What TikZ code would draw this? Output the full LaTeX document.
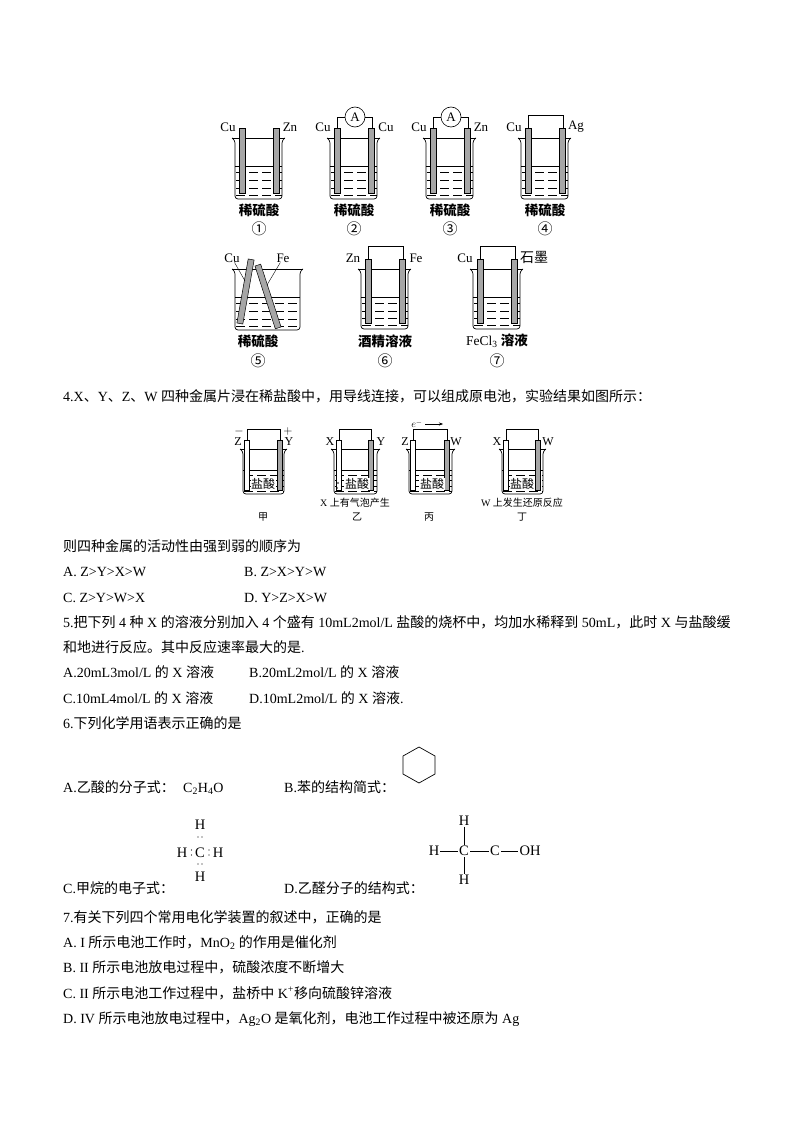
\documentclass[tikz,border=0pt]{standalone}
\usepackage{fontspec}
\setmainfont{Liberation Serif}
\newfontfamily\cjk{Noto Sans CJK SC}
\newcommand{\zh}[1]{{\cjk #1}}
\newcommand{\zhb}[1]{{\cjk\bfseries #1}}
\usetikzlibrary{arrows.meta}
\tikzset{
  txtline/.style={anchor=base west,inner sep=0pt,font=\fontsize{14}{14}\selectfont},
  captext/.style={inner sep=0pt,font=\fontsize{13.5}{14}\selectfont},
  numtext/.style={inner sep=0pt,font=\fontsize{15}{15}\selectfont},
  lab/.style={inner sep=0pt,font=\fontsize{13}{13}\selectfont},
  tiny text/.style={inner sep=0pt,font=\fontsize{10}{10}\selectfont},
  sym text/.style={inner sep=0pt,font=\fontsize{12}{12}\selectfont},
  atom/.style={inner sep=1pt,font=\fontsize{14.5}{15}\selectfont},
  metal/.style={draw,line width=0.5pt,fill=black!35,inner sep=0pt},
  meter/.style={draw,circle,line width=0.6pt,minimum size=20pt,inner sep=0pt,font=\fontsize{13}{13}\selectfont},
  wire/.style={line width=0.6pt},
  bubble/.style={draw,circle,line width=0.3pt,minimum size=2pt,inner sep=0pt},
  edot/.style={circle,fill,minimum size=1.4pt,inner sep=0pt},
}
% beaker: left, right, rim, liquid, bottom
\newcommand{\beaker}[5]{
\draw[wire] (#1-3,#3) -- (#2+3,#3);
\draw[line width=0.7pt,rounded corners=3pt] (#1-3,#3) -- (#1,#3+2) -- (#1,#5) -- (#2,#5) -- (#2,#3+2) -- (#2+3,#3);
\draw[wire] (#1,#4) -- (#2,#4);
\foreach \row in {0.2,0.43,0.66,0.88}
  \draw[line width=0.4pt,dash pattern=on 9pt off 4pt] (#1+1,{#4+\row*(#5-#4)}) -- (#2,{#4+\row*(#5-#4)});
}
% electrode: centre x, half width, top, bottom, fill
\newcommand{\electrode}[5]{
\draw[wire,fill=#5] (#1-#2,#3) rectangle (#1+#2,#4);
}
% big cell: left edge of the beaker, rim, liquid, bottom, electrode top
\newcommand{\bigcell}[5]{
\beaker{#1}{#1+47}{#2}{#3}{#4}
\electrode{#1+7}{2.9}{#5}{#4-6}{black!35}
\electrode{#1+41.5}{3.1}{#5}{#4-6}{black!35}
}
% small cell: left, right, left rod, right rod
\newcommand{\smallcell}[4]{
\beaker{#1}{#2}{449}{470}{494}
\electrode{#3}{2.4}{440}{490}{white}
\electrode{#4}{2.4}{440}{490}{black!35}
\draw[wire] (#3,440) -- (#3,429) -- (#4,429) -- (#4,440);
}
\begin{document}
\begin{tikzpicture}[x=1pt,y=-1pt]
\useasboundingbox[fill=white] (0,0) rectangle (794,1123);

% first row of cells
\bigcell{235}{138}{166}{199}{128}
\bigcell{330}{138}{166}{199}{128}
\bigcell{426}{138}{166}{199}{128}
\bigcell{521}{138}{166}{199}{128}
\node[meter] (ammB) at (355,117) {A};
\node[meter] (ammC) at (451,117) {A};
\draw[wire] (337,128) |- (ammB);
\draw[wire] (372,128) |- (ammB);
\draw[wire] (433,128) |- (ammC);
\draw[wire] (468,128) |- (ammC);
\draw[wire] (528,128) -- (528,115) -- (563,115) -- (563,128);
\node[lab] (cuA) at (228,127) {Cu};
\node[lab] (znA) at (290,127) {Zn};
\node[lab] (cuB) at (323,127) {Cu};
\node[lab] (cuC) at (386,127) {Cu};
\node[lab] (cuD) at (419,127) {Cu};
\node[lab] (znB) at (481,127) {Zn};
\node[lab] (cuE) at (514,127) {Cu};
\node[lab] (agA) at (576,127) {Ag};
\foreach \x/\num/\name in {259/①/a,354/②/b,450/③/c,545/④/d} {
  \node[captext] (acid\name) at (\x,210) {\zhb{稀硫酸}};
  \node[numtext] (num\name) at (\x,229) {\zh{\num}};
}

% second row of cells
\beaker{235}{300}{269}{297}{330}
\node[metal,minimum width=6pt,minimum height=65pt,rotate=-10] (rodCu) at (245.5,291.5) {};
\node[metal,minimum width=6pt,minimum height=66pt,rotate=18] (rodFe) at (268,296.5) {};
\node[lab] (cuF) at (232,258) {Cu};
\node[lab] (feA) at (283,258) {Fe};
\draw[line width=0.4pt] (cuF) -- (245,281);
\draw[line width=0.4pt] (feA) -- (267,285);
\bigcell{361}{269}{297}{329}{259}
\bigcell{473}{269}{297}{329}{259}
\draw[wire] (368,259) -- (368,246) -- (403,246) -- (403,259);
\draw[wire] (480,259) -- (480,246) -- (515,246) -- (515,259);
\node[lab] (znC) at (353,258) {Zn};
\node[lab] (feB) at (416,258) {Fe};
\node[lab] (cuG) at (465,258) {Cu};
\node[captext,font=\fontsize{14}{14}\selectfont] (cdA) at (534,257) {\zh{石墨}};
\node[captext] (acide) at (258,341) {\zhb{稀硫酸}};
\node[captext] (acidf) at (385,341) {\zhb{酒精溶液}};
\node[captext] (acidg) at (497,341) {FeCl\textsubscript{3} \zhb{溶液}};
\foreach \x/\num/\name in {258/⑤/e,385/⑥/f,497/⑦/g}
  \node[numtext] (num\name) at (\x,361) {\zh{\num}};

\node[txtline] (qFour) at (63,401) {4.X\zh{、}Y\zh{、}Z\zh{、}W \zh{四种金属片浸在稀盐酸中，用导线连接，可以组成原电池，实验结果如图所示：}};

% small cells
\smallcell{243}{284}{247}{280}
\smallcell{334}{377}{339}{371}
\smallcell{409}{452}{413}{447}
\smallcell{502}{543}{506}{538}
\foreach \x/\name in {263/a,357/b,432/c,522/d}
  \node[sym text,fill=white,inner sep=0.5pt] (hcl\name) at (\x,484) {\zh{盐酸}};
\node[sym text] (minus) at (239,431) {$-$};
\node[sym text] (plus) at (288,431) {$+$};
\node[sym text] (zA) at (238,442) {Z};
\node[sym text] (yA) at (289,442) {Y};
\node[sym text] (xA) at (330,442) {X};
\node[sym text] (yB) at (381,442) {Y};
\node[sym text] (zB) at (405,442) {Z};
\node[sym text] (wA) at (456,442) {W};
\node[sym text] (xB) at (497,442) {X};
\node[sym text] (wB) at (548,442) {W};
\node[tiny text] (elec) at (417,424) {$e^{-}$};
\coordinate (tip) at (443,424);
\draw[-{Stealth[length=4pt,width=3pt]},line width=0.4pt] (elec) ++(8,0) -- (tip);
\node[bubble] (gasA) at (338,483) {};
\node[bubble] (gasB) at (337,488) {};
\node[tiny text] (noteB) at (355,503) {X \zh{上有气泡产生}};
\node[tiny text] (noteD) at (522,503) {W \zh{上发生还原反应}};
\node[tiny text] (jia) at (263,517) {\zh{甲}};
\node[tiny text] (yi) at (357,517) {\zh{乙}};
\node[tiny text] (bing) at (429,517) {\zh{丙}};
\node[tiny text] (ding) at (522,517) {\zh{丁}};

% question text
\node[txtline] (lnA) at (63,551) {\zh{则四种金属的活动性由强到弱的顺序为}};
\node[txtline] (optA) at (63,576) {A. Z>Y>X>W};
\node[txtline] (optB) at (244,576) {B. Z>X>Y>W};
\node[txtline] (optC) at (63,602) {C. Z>Y>W>X};
\node[txtline] (optD) at (244,602) {D. Y>Z>X>W};
\node[txtline] (qFive) at (63,627) {5.\zh{把下列} 4 \zh{种} X \zh{的溶液分别加入} 4 \zh{个盛有} 10mL2mol/L \zh{盐酸的烧杯中，均加水稀释到} 50mL\zh{，此时} X \zh{与盐酸缓}};
\node[txtline] (lnB) at (63,652) {\zh{和地进行反应。其中反应速率最大的是}.};
\node[txtline] (optE) at (63,677) {A.20mL3mol/L \zh{的} X \zh{溶液}};
\node[txtline] (optF) at (249,677) {B.20mL2mol/L \zh{的} X \zh{溶液}};
\node[txtline] (optG) at (63,703) {C.10mL4mol/L \zh{的} X \zh{溶液}};
\node[txtline] (optH) at (249,703) {D.10mL2mol/L \zh{的} X \zh{溶液}.};
\node[txtline] (qSix) at (63,728) {6.\zh{下列化学用语表示正确的是}};
\node[txtline] (optI) at (63,792) {A.\zh{乙酸的分子式：}};
\node[txtline] (formA) at (183,792) {C\textsubscript{2}H\textsubscript{4}O};
\node[txtline] (optJ) at (284,792) {B.\zh{苯的结构简式：}};
\node[txtline] (optK) at (63,893) {C.\zh{甲烷的电子式：}};
\node[txtline] (optL) at (284,893) {D.\zh{乙醛分子的结构式：}};

% benzene ring
\draw[line width=0.7pt] (403,756) -- (419,747) -- (435,756) -- (435,774) -- (419,783) -- (403,774) -- cycle;

% electron formula
\node[atom] (hTop) at (200,825) {H};
\node[atom] (cMid) at (200,853) {C};
\node[atom] (hLft) at (182,853) {H};
\node[atom] (hRgt) at (218,853) {H};
\node[atom] (hBot) at (200,877) {H};
\foreach \px/\py/\name in {198/837/a,202/837/b,198/864/c,202/864/d,191.5/850/e,191.5/855/f,209/850/g,209/855/h}
  \node[edot] (dot\name) at (\px,\py) {};

% structural formula
\node[atom] (cOne) at (464,851) {C};
\node[atom] (cTwo) at (495,851) {C};
\node[atom] (hA) at (434,851) {H};
\node[atom] (hB) at (464,821) {H};
\node[atom] (hC) at (464,880) {H};
\node[atom] (oh) at (530,851) {OH};
\draw[wire] (hA) -- (cOne);
\draw[wire] (cOne) -- (cTwo);
\draw[wire] (cTwo) -- (oh);
\draw[wire] (hB) -- (cOne);
\draw[wire] (cOne) -- (hC);

\node[txtline] (qSeven) at (63,922) {7.\zh{有关下列四个常用电化学装置的叙述中，正确的是}};
\node[txtline] (optM) at (63,947) {A. I \zh{所示电池工作时，}MnO\textsubscript{2} \zh{的作用是催化剂}};
\node[txtline] (optN) at (63,972) {B. II \zh{所示电池放电过程中，硫酸浓度不断增大}};
\node[txtline] (optO) at (63,998) {C. II \zh{所示电池工作过程中，盐桥中} K\textsuperscript{+}\zh{移向硫酸锌溶液}};
\node[txtline] (optP) at (63,1023) {D. IV \zh{所示电池放电过程中，}Ag\textsubscript{2}O \zh{是氧化剂，电池工作过程中被还原为} Ag};
\end{tikzpicture}
\end{document}
